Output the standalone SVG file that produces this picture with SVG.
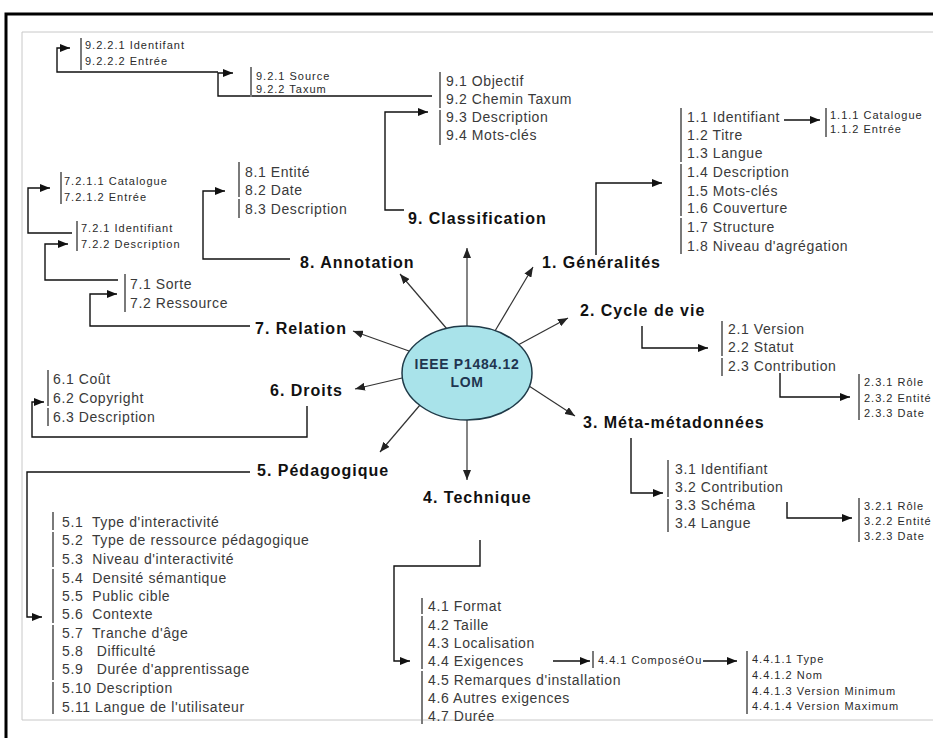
<svg xmlns="http://www.w3.org/2000/svg" width="933" height="738" viewBox="0 0 933 738">
<style>
.cat{font-family:"Liberation Sans",Arial,sans-serif;font-weight:bold;font-size:16px;letter-spacing:1px;fill:#111}
.it{font-family:"Liberation Sans",Arial,sans-serif;font-size:14px;letter-spacing:0.6px;fill:#3a3a3a}
.sm{font-family:"Liberation Sans",Arial,sans-serif;font-size:11px;letter-spacing:1px;fill:#2a2a2a}
.bar{stroke:#7a7a7a;stroke-width:2;fill:none}
.con{stroke:#111;stroke-width:1.4;fill:none;marker-end:url(#ah)}
.ray{stroke:#333;stroke-width:1.2;fill:none;marker-end:url(#ah2)}
.ctr{font-family:"Liberation Sans",Arial,sans-serif;font-weight:bold;font-size:14px;letter-spacing:0.7px;fill:#1f3550}
</style>
<defs>
<marker id="ah" markerUnits="userSpaceOnUse" markerWidth="10" markerHeight="8" refX="10" refY="4" orient="auto"><path d="M0,0 L10,4 L0,8 z" fill="#111"/></marker>
<marker id="ah2" markerUnits="userSpaceOnUse" markerWidth="10" markerHeight="8" refX="10" refY="4" orient="auto"><path d="M0,0 L10,4 L0,8 z" fill="#222"/></marker>
</defs>
<rect width="933" height="738" fill="#fff"/>
<g id="frame">
<path d="M6,738 V14 H933" stroke="#000" stroke-width="3" fill="none"/>
<path d="M933,32 H22 V720 H933" stroke="#c8c8c8" stroke-width="1" fill="none"/>
</g>

<g id="connectors">
<path class="ray" d="M467,326 V248"/>
<path class="ray" d="M447,329 L400,274"/>
<path class="ray" d="M495,331 L533,267"/>
<path class="ray" d="M518,345 L568,318"/>
<path class="ray" d="M409,351 L353,331"/>
<path class="ray" d="M402,378 L355,389"/>
<path class="ray" d="M420,405 L380,452"/>
<path class="ray" d="M467,420 V480"/>
<path class="ray" d="M529,386 L575,416"/>

<path class="con" d="M404,210 H385 V112 H428"/>
<path class="con" d="M432,96 H218 V73 H233"/>
<path class="con" d="M218,72 H57 V48 H70"/>
<path class="con" d="M596,255 V183 H662"/>
<path class="con" d="M784,120 H820"/>
<path class="con" d="M642,326 V348 H708"/>
<path class="con" d="M780,373 V397 H850"/>
<path class="con" d="M631,438 V493 H663"/>
<path class="con" d="M787,502 V518 H852"/>
<path class="con" d="M480,540 V566 H394 V661 H410"/>
<path class="con" d="M553,661 H590"/>
<path class="con" d="M703,661 H737"/>
<path class="con" d="M250,472 H27 V617 H42"/>
<path class="con" d="M307,406 V437 H32 V402 H44"/>
<path class="con" d="M250,326 H90 V294 H117"/>
<path class="con" d="M118,280 H45 V244 H68"/>
<path class="con" d="M72,233 H28 V188 H50"/>
<path class="con" d="M290,259 H203 V191 H225"/>
</g>

<g id="center">
<ellipse cx="467" cy="373" rx="65" ry="47" fill="#a9e3ea" stroke="#1f3a48" stroke-width="1.5"/>
<text class="ctr" x="467" y="369" text-anchor="middle">IEEE P1484.12</text>
<text class="ctr" x="467" y="387" text-anchor="middle">LOM</text>
</g>

<g id="cat-1"><text class="cat" x="542" y="268">1. Généralités</text></g>
<g id="cat-2"><text class="cat" x="580" y="316">2. Cycle de vie</text></g>
<g id="cat-3"><text class="cat" x="583" y="428">3. Méta-métadonnées</text></g>
<g id="cat-4"><text class="cat" x="423" y="503">4. Technique</text></g>
<g id="cat-5"><text class="cat" x="257" y="476">5. Pédagogique</text></g>
<g id="cat-6"><text class="cat" x="270" y="396">6. Droits</text></g>
<g id="cat-7"><text class="cat" x="255" y="334">7. Relation</text></g>
<g id="cat-8"><text class="cat" x="300" y="268">8. Annotation</text></g>
<g id="cat-9"><text class="cat" x="408" y="224">9. Classification</text></g>

<g id="list-9">
<path class="bar" d="M440,72 V108 M440,110 V145"/>
<text class="it" x="446" y="86">9.1 Objectif</text>
<text class="it" x="446" y="104">9.2 Chemin Taxum</text>
<text class="it" x="446" y="122">9.3 Description</text>
<text class="it" x="446" y="140">9.4 Mots-clés</text>
</g>
<g id="list-9-2">
<path class="bar" d="M251,67 V97"/>
<text class="sm" x="256" y="80">9.2.1 Source</text>
<text class="sm" x="256" y="93">9.2.2 Taxum</text>
</g>
<g id="list-9-2-2">
<path class="bar" d="M81,38 V70"/>
<text class="sm" x="85" y="49">9.2.2.1 Identifant</text>
<text class="sm" x="85" y="65">9.2.2.2 Entrée</text>
</g>

<g id="list-1">
<path class="bar" d="M681,108 V162 M681,164 V216 M681,218 V254"/>
<text class="it" x="687" y="122">1.1 Identifiant</text>
<text class="it" x="687" y="140">1.2 Titre</text>
<text class="it" x="687" y="158">1.3 Langue</text>
<text class="it" x="687" y="177">1.4 Description</text>
<text class="it" x="687" y="196">1.5 Mots-clés</text>
<text class="it" x="687" y="213">1.6 Couverture</text>
<text class="it" x="687" y="232">1.7 Structure</text>
<text class="it" x="687" y="251">1.8 Niveau d'agrégation</text>
</g>
<g id="list-1-1">
<path class="bar" d="M826,108 V137"/>
<text class="sm" x="830" y="119">1.1.1 Catalogue</text>
<text class="sm" x="830" y="133">1.1.2 Entrée</text>
</g>

<g id="list-2">
<path class="bar" d="M722,321 V356 M722,358 V376"/>
<text class="it" x="728" y="334">2.1 Version</text>
<text class="it" x="728" y="352">2.2 Statut</text>
<text class="it" x="728" y="371">2.3 Contribution</text>
</g>
<g id="list-2-3">
<path class="bar" d="M859,374 V420"/>
<text class="sm" x="864" y="386">2.3.1 Rôle</text>
<text class="sm" x="864" y="402">2.3.2 Entité</text>
<text class="sm" x="864" y="417">2.3.3 Date</text>
</g>

<g id="list-3">
<path class="bar" d="M668,460 V497 M668,499 V532"/>
<text class="it" x="675" y="474">3.1 Identifiant</text>
<text class="it" x="675" y="492">3.2 Contribution</text>
<text class="it" x="675" y="510">3.3 Schéma</text>
<text class="it" x="675" y="528">3.4 Langue</text>
</g>
<g id="list-3-2">
<path class="bar" d="M859,498 V542"/>
<text class="sm" x="864" y="510">3.2.1 Rôle</text>
<text class="sm" x="864" y="525">3.2.2 Entité</text>
<text class="sm" x="864" y="540">3.2.3 Date</text>
</g>

<g id="list-4">
<path class="bar" d="M422,598 V614 M422,616 V669 M422,671 V724"/>
<text class="it" x="428" y="611">4.1 Format</text>
<text class="it" x="428" y="630">4.2 Taille</text>
<text class="it" x="428" y="648">4.3 Localisation</text>
<text class="it" x="428" y="666">4.4 Exigences</text>
<text class="it" x="428" y="685">4.5 Remarques d'installation</text>
<text class="it" x="428" y="703">4.6 Autres exigences</text>
<text class="it" x="428" y="721">4.7 Durée</text>
</g>
<g id="list-4-4">
<path class="bar" d="M593,651 V668"/>
<text class="sm" x="598" y="664">4.4.1 ComposéOu</text>
</g>
<g id="list-4-4-1">
<path class="bar" d="M747,651 V714"/>
<text class="sm" x="752" y="663">4.4.1.1 Type</text>
<text class="sm" x="752" y="679">4.4.1.2 Nom</text>
<text class="sm" x="752" y="695">4.4.1.3 Version Minimum</text>
<text class="sm" x="752" y="710">4.4.1.4 Version Maximum</text>
</g>

<g id="list-5">
<path class="bar" d="M53,512 V530 M53,532 V567 M53,569 V623 M53,625 V680 M53,682 V714"/>
<text class="it" x="62" y="527" xml:space="preserve">5.1  Type d'interactivité</text>
<text class="it" x="62" y="545" xml:space="preserve">5.2  Type de ressource pédagogique</text>
<text class="it" x="62" y="564" xml:space="preserve">5.3  Niveau d'interactivité</text>
<text class="it" x="62" y="583" xml:space="preserve">5.4  Densité sémantique</text>
<text class="it" x="62" y="601" xml:space="preserve">5.5  Public cible</text>
<text class="it" x="62" y="619" xml:space="preserve">5.6  Contexte</text>
<text class="it" x="62" y="638" xml:space="preserve">5.7  Tranche d'âge</text>
<text class="it" x="62" y="656" xml:space="preserve">5.8   Difficulté</text>
<text class="it" x="62" y="674" xml:space="preserve">5.9   Durée d'apprentissage</text>
<text class="it" x="62" y="693">5.10 Description</text>
<text class="it" x="62" y="712">5.11 Langue de l'utilisateur</text>
</g>

<g id="list-6">
<path class="bar" d="M48,370 V406 M48,408 V426"/>
<text class="it" x="53" y="384">6.1 Coût</text>
<text class="it" x="53" y="403">6.2 Copyright</text>
<text class="it" x="53" y="422">6.3 Description</text>
</g>

<g id="list-7">
<path class="bar" d="M125,274 V312"/>
<text class="it" x="130" y="289">7.1 Sorte</text>
<text class="it" x="130" y="308">7.2 Ressource</text>
</g>
<g id="list-7-2">
<path class="bar" d="M77,221 V251"/>
<text class="sm" x="81" y="232">7.2.1 Identifiant</text>
<text class="sm" x="81" y="248">7.2.2 Description</text>
</g>
<g id="list-7-2-1">
<path class="bar" d="M61,172 V204"/>
<text class="sm" x="64" y="185">7.2.1.1 Catalogue</text>
<text class="sm" x="64" y="201">7.2.1.2 Entrée</text>
</g>

<g id="list-8">
<path class="bar" d="M239,162 V197 M239,199 V218"/>
<text class="it" x="245" y="177">8.1 Entité</text>
<text class="it" x="245" y="195">8.2 Date</text>
<text class="it" x="245" y="214">8.3 Description</text>
</g>
</svg>
